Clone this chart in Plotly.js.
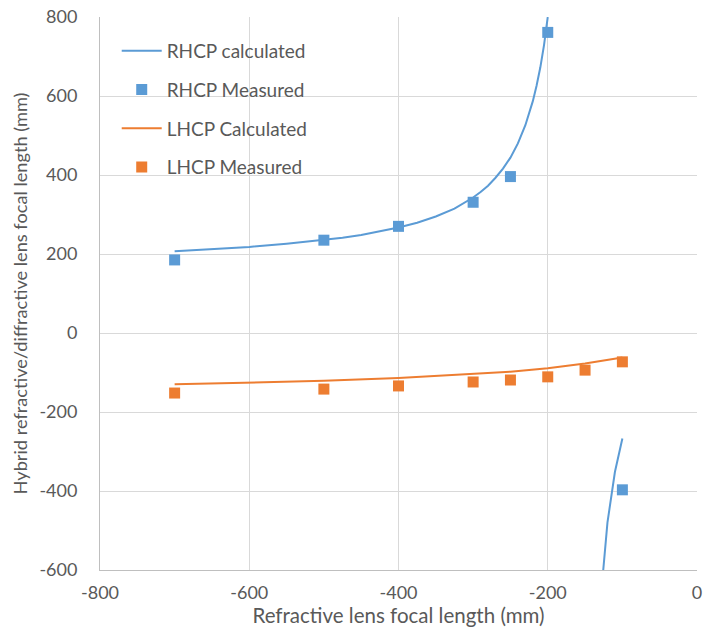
<!DOCTYPE html>
<html>
<head>
<meta charset="utf-8">
<script src="https://cdn.plot.ly/plotly-3.0.1.min.js"></script>
<style>html,body{margin:0;padding:0;background:#fff}#chart{width:704px;height:640px}</style>
</head>
<body>
<div id="chart"></div>
<script>
// RHCP calculated (two branches, separated by a gap)
const rhcpCalcX = [-700, -650, -600, -550, -500, -475, -450, -425, -400, -375, -350, -325, -300, -290, -280, -270, -260, -250, -240, -230, -220, -215, -210, -205, -200, null, -130, -120, -110, -100];
const rhcpCalcY = [207, 212, 218, 226, 235, 241, 248, 257, 267, 279, 295, 315, 343, 357, 373, 393, 416, 444, 480, 526, 587, 626, 672, 729, 800, null, -693, -480, -352, -267];
// RHCP measured
const rhcpMeasX = [-700, -500, -400, -300, -250, -200, -100];
const rhcpMeasY = [185, 235, 270, 331, 396, 761, -397];
// LHCP calculated
const lhcpCalcX = [-700, -600, -500, -400, -300, -250, -200, -150, -100];
const lhcpCalcY = [-130, -126, -121, -114, -104, -98, -89, -77, -62];
// LHCP measured
const lhcpMeasX = [-700, -500, -400, -300, -250, -200, -150, -100];
const lhcpMeasY = [-152, -142, -134, -124, -119, -111, -94, -73];

const seriesNames = ['RHCP calculated', 'RHCP Measured', 'LHCP Calculated', 'LHCP Measured'];
const xTickVals = [-800, -600, -400, -200, 0];
const xTickText = ['-800', '-600', '-400', '-200', '0'];
const yTickVals = [-600, -400, -200, 0, 200, 400, 600, 800];
const yTickText = ['-600', '-400', '-200', '0', '200', '400', '600', '800'];

const blue = '#5B9BD5', orange = '#ED7D31';
const fontFam = 'Lato, "Open Sans", sans-serif';
const txt = '#595959';

const traces = [
  {x: rhcpCalcX, y: rhcpCalcY, name: seriesNames[0], mode: 'lines', line: {color: blue, width: 2}, connectgaps: false, legendgroup: 'a'},
  {x: rhcpMeasX, y: rhcpMeasY, name: seriesNames[1], mode: 'markers', marker: {symbol: 'square', color: blue, size: 11}, legendgroup: 'b', cliponaxis: false},
  {x: lhcpCalcX, y: lhcpCalcY, name: seriesNames[2], mode: 'lines', line: {color: orange, width: 2}, legendgroup: 'c'},
  {x: lhcpMeasX, y: lhcpMeasY, name: seriesNames[3], mode: 'markers', marker: {symbol: 'square', color: orange, size: 11}, legendgroup: 'd'}
];

const layout = {
  width: 704, height: 640,
  margin: {l: 100, r: 7, t: 17, b: 70},
  paper_bgcolor: '#fff', plot_bgcolor: '#fff',
  font: {family: fontFam, color: txt, size: 18},
  showlegend: true,
  legend: {x: 0.028, y: 0.973, xanchor: 'left', yanchor: 'top', bgcolor: 'rgba(0,0,0,0)',
           font: {size: 19, color: txt}, traceorder: 'grouped', tracegroupgap: 11, itemwidth: 40},
  xaxis: {
    range: [-800, 0], tickmode: 'array', tickvals: xTickVals, ticktext: xTickText,
    showgrid: true, gridcolor: '#D9D9D9', gridwidth: 1,
    zeroline: false, showline: true, linecolor: '#BFBFBF', linewidth: 1, ticks: '',
    ticklabelstandoff: 6,
    tickfont: {size: 18, color: txt},
    title: {text: 'Refractive lens focal length (mm)', font: {size: 20.5, color: txt}, standoff: 7}
  },
  yaxis: {
    range: [-600, 800], tickmode: 'array', tickvals: yTickVals, ticktext: yTickText,
    showgrid: true, gridcolor: '#D9D9D9', gridwidth: 1,
    zeroline: false, showline: true, linecolor: '#BFBFBF', linewidth: 1, ticks: '',
    ticklabelstandoff: 18,
    tickfont: {size: 18, color: txt},
    title: {text: 'Hybrid refractive/diffractive lens focal length (mm)', font: {size: 18.2, color: txt}, standoff: 7}
  }
};

Plotly.newPlot('chart', traces, layout, {displayModeBar: false, staticPlot: true});
</script>
</body>
</html>
